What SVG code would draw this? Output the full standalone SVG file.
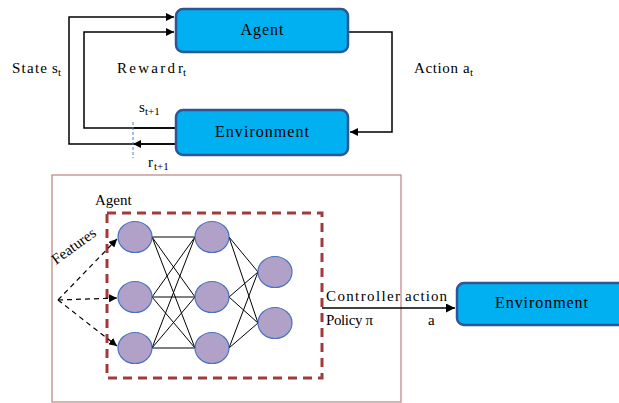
<svg xmlns="http://www.w3.org/2000/svg" width="619" height="403" viewBox="0 0 619 403">
<defs>
<style>
.box{fill:#00B0F0;stroke:#2F5597;stroke-width:2.5}
text{font-family:'Liberation Serif','Times New Roman','DejaVu Serif',serif;fill:#000}
.t{font-size:15px}
.b{font-size:16px}
.sub{font-size:11px}
.ln{fill:none;stroke:#000;stroke-width:1.5}
.nl{stroke:#000;stroke-width:1}
.nd{fill:#B1A0C7;stroke:#4A72C0;stroke-width:1.2}
.da{fill:none;stroke:#000;stroke-width:1.2;stroke-dasharray:5,4}
</style>
<marker id="ah" viewBox="0 0 10 10" refX="10" refY="5" markerWidth="8" markerHeight="8" markerUnits="userSpaceOnUse" orient="auto"><path d="M0,0 L10,5 L0,10 z" fill="#000"/></marker>
<marker id="ah2" viewBox="0 0 10 10" refX="10" refY="5" markerWidth="9" markerHeight="9" markerUnits="userSpaceOnUse" orient="auto"><path d="M0,0 L10,5 L0,10 z" fill="#000"/></marker>
</defs>
<rect width="619" height="403" fill="#fff"/>

<g id="connectors">
<path class="ln" d="M175,128 H84 V32 H174" marker-end="url(#ah)"/>
<path class="ln" d="M175,144 H69 V17 H174" marker-end="url(#ah)"/>
<path d="M175,128 H133 M175,144 H133" stroke="#000" stroke-width="1.5" marker-end="url(#ah)"/>
<path class="ln" d="M348,32 H392 V132 H350" stroke="#555" marker-end="url(#ah)"/>
<line x1="133" y1="122" x2="133" y2="158" stroke="#4A7BD0" stroke-width="1" stroke-dasharray="3,2"/>
</g>

<g id="agent-top">
<rect class="box" x="176" y="9" width="172" height="43" rx="7"/>
<text class="b" x="262" y="35" text-anchor="middle" textLength="43" lengthAdjust="spacing">Agent</text>
</g>
<g id="environment-top">
<rect class="box" x="176" y="110" width="172" height="45" rx="7"/>
<text class="b" x="262" y="137" text-anchor="middle" textLength="94" lengthAdjust="spacing">Environment</text>
</g>

<g id="labels-top">
<text class="t" x="12" y="73" textLength="35" lengthAdjust="spacing">State</text>
<text class="t" x="52" y="73">s</text><text class="sub" x="58" y="76">t</text>
<text class="t" x="117" y="73" textLength="58" lengthAdjust="spacing">Reward</text>
<text class="t" x="178" y="73">r</text><text class="sub" x="183" y="76">t</text>
<text class="t" x="414" y="73" textLength="44" lengthAdjust="spacing">Action</text>
<text class="t" x="463" y="73">a</text><text class="sub" x="470" y="76">t</text>
<text class="t" x="139" y="112">s</text><text class="sub" x="145" y="115">t+1</text>
<text class="t" x="148" y="167">r</text><text class="sub" x="154" y="170">t+1</text>
</g>

<g id="panel">
<rect x="52" y="175" width="349" height="227" fill="none" stroke="#C48A8A" stroke-width="1.3"/>
<rect x="107" y="213" width="215" height="165" fill="none" stroke="#A33A3A" stroke-width="3" stroke-dasharray="9,6"/>
<text class="t" x="95" y="205">Agent</text>
<text class="t" x="0" y="0" transform="translate(56,265) rotate(-36)">Features</text>
</g>

<g id="nn-connectors">
<g class="nl">
<line x1="152" y1="237" x2="195" y2="237"/><line x1="152" y1="237" x2="195" y2="297"/><line x1="152" y1="237" x2="195" y2="348"/>
<line x1="152" y1="297" x2="195" y2="237"/><line x1="152" y1="297" x2="195" y2="297"/><line x1="152" y1="297" x2="195" y2="348"/>
<line x1="152" y1="348" x2="195" y2="237"/><line x1="152" y1="348" x2="195" y2="297"/><line x1="152" y1="348" x2="195" y2="348"/>
<line x1="229" y1="237" x2="258" y2="272"/><line x1="229" y1="237" x2="258" y2="323"/>
<line x1="229" y1="297" x2="258" y2="272"/><line x1="229" y1="297" x2="258" y2="323"/>
<line x1="229" y1="348" x2="258" y2="272"/><line x1="229" y1="348" x2="258" y2="323"/>
</g>
<path class="da" d="M58,300 L117,239" marker-end="url(#ah)"/>
<path class="da" d="M58,300 L117,298" marker-end="url(#ah)"/>
<path class="da" d="M58,300 L117,346" marker-end="url(#ah)"/>
<line x1="322" y1="308" x2="455" y2="308" stroke="#000" stroke-width="1.3" marker-end="url(#ah2)"/>
</g>

<g id="nodes">
<ellipse id="n11" class="nd" cx="135" cy="237" rx="17" ry="15.5"/>
<ellipse id="n12" class="nd" cx="135" cy="297" rx="17" ry="15.5"/>
<ellipse id="n13" class="nd" cx="135" cy="348" rx="17" ry="15.5"/>
<ellipse id="n21" class="nd" cx="212" cy="237" rx="17" ry="15.5"/>
<ellipse id="n22" class="nd" cx="212" cy="297" rx="17" ry="15.5"/>
<ellipse id="n23" class="nd" cx="212" cy="348" rx="17" ry="15.5"/>
<ellipse id="n31" class="nd" cx="275" cy="272" rx="17" ry="15.5"/>
<ellipse id="n32" class="nd" cx="275" cy="323" rx="17" ry="15.5"/>
</g>

<g id="labels-bottom">
<text class="t" x="326" y="301" textLength="74" lengthAdjust="spacing">Controller</text>
<text class="t" x="405" y="301" textLength="42" lengthAdjust="spacing">action</text>
<text class="t" x="326" y="325" textLength="47" lengthAdjust="spacing">Policy π</text>
<text class="t" x="428" y="325">a</text>
</g>

<g id="environment-bottom">
<rect class="box" x="457" y="283" width="170" height="42" rx="7"/>
<text class="b" x="495" y="308" textLength="93" lengthAdjust="spacing">Environment</text>
</g>
</svg>
